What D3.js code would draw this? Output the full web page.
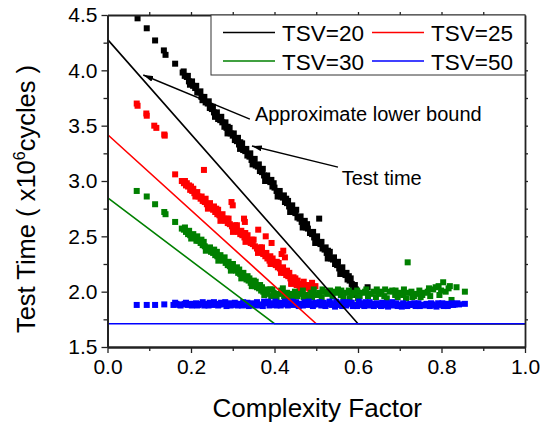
<!DOCTYPE html>
<html><head><meta charset="utf-8">
<script src="https://cdnjs.cloudflare.com/ajax/libs/d3/7.8.5/d3.min.js"></script>
<style>body{margin:0;background:#fff}svg{display:block}text{font-family:"Liberation Sans",Arial,sans-serif;fill:#000}</style>
</head><body><svg id="c" width="542" height="425"></svg>
<script>
const seriesNames = ["TSV=20","TSV=25","TSV=30","TSV=50"];
const seriesColors = ["#000000","#ff0000","#008000","#0000ff"];
const xTicks = [0,0.2,0.4,0.6,0.8,1.0];
const yTicks = [1.5,2.0,2.5,3.0,3.5,4.0,4.5];

const tsv20Points = [
[0.072,4.47],[0.094,4.38],[0.114,4.27],[0.135,4.18],[0.139,4.14],[0.162,4.06],
[0.180,3.98],[0.185,3.95],[0.190,3.94],[0.195,3.90],[0.200,3.89],[0.205,3.86],[0.210,3.84],[0.215,3.80],[0.220,3.80],[0.225,3.76],
[0.230,3.74],[0.235,3.71],[0.240,3.70],[0.245,3.66],[0.250,3.65],[0.255,3.62],[0.260,3.60],[0.265,3.56],[0.270,3.55],[0.275,3.53],
[0.280,3.49],[0.285,3.48],[0.290,3.45],[0.295,3.43],[0.300,3.41],[0.305,3.37],[0.310,3.36],[0.315,3.33],[0.320,3.31],[0.325,3.28],
[0.330,3.27],[0.335,3.23],[0.340,3.22],[0.345,3.19],[0.350,3.17],[0.355,3.14],[0.360,3.13],[0.365,3.09],[0.370,3.08],[0.375,3.05],
[0.380,3.03],[0.385,3.00],[0.390,2.99],[0.395,2.95],[0.400,2.94],[0.405,2.91],[0.410,2.89],[0.415,2.86],[0.420,2.85],[0.425,2.81],
[0.430,2.80],[0.435,2.77],[0.440,2.75],[0.445,2.72],[0.450,2.71],[0.455,2.67],[0.460,2.66],[0.465,2.63],[0.470,2.61],[0.475,2.58],
[0.480,2.57],[0.485,2.53],[0.490,2.52],[0.495,2.49],[0.500,2.47],[0.505,2.44],[0.510,2.43],[0.515,2.39],[0.520,2.38],[0.525,2.35],
[0.530,2.33],[0.535,2.30],[0.540,2.29],[0.545,2.25],[0.550,2.24],[0.555,2.21],[0.560,2.19],[0.565,2.16],[0.570,2.15],[0.575,2.11],
[0.580,2.10],[0.585,2.07],[0.590,2.05],[0.595,2.02],[0.600,1.99],[0.592,1.97],
[0.232,3.76],[0.262,3.62],[0.288,3.49],[0.318,3.35],[0.342,3.25],[0.372,3.11],[0.398,2.98],[0.428,2.84],[0.452,2.74],
[0.478,2.61],[0.502,2.50],[0.528,2.37],[0.552,2.27],[0.578,2.14],
[0.1825,3.99],[0.1925,3.95],[0.2025,3.90],[0.2125,3.86],[0.2225,3.81],[0.2425,3.72],[0.2525,3.67],[0.2725,3.58],[0.2825,3.53],
[0.2925,3.48],[0.3025,3.43],[0.3125,3.39],[0.3225,3.34],[0.3325,3.29],[0.3525,3.20],[0.3625,3.15],[0.3825,3.05],[0.3925,3.01],
[0.4125,2.91],[0.4225,2.87],[0.4325,2.82],[0.4425,2.78],[0.4625,2.68],[0.4725,2.64],[0.4925,2.54],[0.5125,2.45],[0.5225,2.40],
[0.5325,2.36],[0.5425,2.31],[0.5625,2.22],[0.5725,2.17],[0.5825,2.12],[0.5925,2.06],
[0.1975,3.87],[0.2275,3.73],[0.2575,3.58],[0.2875,3.43],[0.3175,3.29],[0.3475,3.15],[0.3775,3.00],[0.4075,2.86],[0.4375,2.72],
[0.4675,2.58],[0.4975,2.44],[0.5275,2.30],[0.5575,2.16],[0.5875,2.02],
[0.507,2.66],[0.623,2.04]
];

const tsv25Points = [
[0.070,3.70],[0.072,3.68],[0.093,3.61],[0.094,3.59],[0.112,3.50],[0.117,3.48],[0.136,3.42],[0.137,3.41],
[0.162,3.06],[0.231,3.10],
[0.178,3.00],[0.183,2.98],[0.188,2.96],[0.193,2.95],[0.198,2.92],[0.203,2.91],[0.208,2.89],[0.213,2.87],[0.218,2.86],[0.223,2.84],
[0.228,2.82],[0.233,2.81],[0.238,2.79],[0.243,2.77],[0.248,2.76],[0.253,2.74],[0.258,2.72],[0.263,2.70],[0.268,2.69],[0.273,2.67],
[0.278,2.66],[0.283,2.64],[0.288,2.62],[0.293,2.61],[0.298,2.59],[0.303,2.57],[0.308,2.56],[0.313,2.54],[0.318,2.52],[0.323,2.51],
[0.328,2.49],[0.333,2.48],[0.338,2.46],[0.343,2.44],[0.348,2.43],[0.353,2.41],[0.358,2.39],[0.363,2.37],[0.368,2.36],[0.373,2.34],
[0.378,2.32],[0.383,2.30],[0.388,2.28],[0.393,2.27],[0.398,2.25],[0.403,2.24],[0.408,2.22],[0.413,2.21],[0.418,2.19],[0.423,2.17],
[0.428,2.15],[0.433,2.14],[0.438,2.12],[0.443,2.10],[0.448,2.08],[0.453,2.06],[0.458,2.06],[0.463,2.07],[0.468,2.05],[0.473,2.04],
[0.478,2.06],[0.483,2.03],[0.488,2.05],[0.493,2.04],[0.498,2.05],
[0.190,2.98],[0.200,2.95],[0.215,2.90],[0.235,2.84],[0.255,2.77],[0.265,2.74],[0.290,2.66],[0.310,2.60],[0.330,2.53],[0.350,2.47],
[0.370,2.40],[0.390,2.32],[0.410,2.26],[0.430,2.19],[0.450,2.12],[0.470,2.09],[0.440,2.07],[0.460,2.03],[0.490,2.08],
[0.1855,3.00],[0.1955,2.96],[0.2055,2.93],[0.2255,2.86],[0.2455,2.80],[0.2605,2.75],[0.2755,2.70],[0.2855,2.66],[0.3055,2.60],
[0.3205,2.55],[0.3355,2.51],[0.3455,2.47],[0.3655,2.40],[0.3805,2.35],[0.3955,2.30],[0.4055,2.27],[0.4205,2.22],[0.4355,2.17],
[0.4455,2.13],[0.4555,2.10],
[0.2105,2.86],[0.2405,2.75],[0.2705,2.64],[0.3005,2.54],[0.3305,2.45],[0.3605,2.35],[0.3905,2.25],[0.4155,2.17],[0.4405,2.08],
[0.4655,2.02],[0.4855,2.01],
[0.297,2.81],[0.300,2.78],[0.327,2.66],[0.329,2.63],[0.361,2.56],[0.379,2.50],[0.393,2.44],[0.417,2.34],[0.421,2.37],[0.425,2.31]
];

const tsv30Points = [
[0.070,2.91],[0.094,2.86],[0.114,2.79],[0.136,2.72],[0.139,2.70],[0.162,2.63],
[0.178,2.57],[0.183,2.56],[0.188,2.54],[0.193,2.52],[0.198,2.51],[0.203,2.49],[0.208,2.49],[0.213,2.46],[0.218,2.46],[0.223,2.44],
[0.228,2.42],[0.233,2.41],[0.238,2.39],[0.243,2.38],[0.248,2.36],[0.253,2.35],[0.258,2.33],[0.263,2.32],[0.268,2.30],[0.273,2.29],
[0.278,2.28],[0.283,2.26],[0.288,2.24],[0.293,2.23],[0.298,2.22],[0.303,2.20],[0.308,2.19],[0.313,2.17],[0.318,2.16],[0.323,2.14],
[0.328,2.13],[0.333,2.11],[0.338,2.10],[0.343,2.08],[0.348,2.07],[0.353,2.05],[0.358,2.04],[0.363,2.03],[0.368,2.01],[0.373,2.00],
[0.378,1.99],[0.383,1.98],
[0.215,2.50],[0.225,2.47],[0.262,2.36],[0.290,2.27],[0.310,2.22],[0.340,2.12],[0.355,2.09],[0.370,2.04],[0.390,2.02],
[0.1855,2.58],[0.1955,2.55],[0.2055,2.52],[0.2305,2.45],[0.2455,2.40],[0.2555,2.38],[0.2705,2.33],[0.2805,2.31],[0.3005,2.25],
[0.3155,2.20],[0.3255,2.17],[0.3355,2.14],[0.3505,2.10],[0.3655,2.06],[0.3805,2.02],
[0.2005,2.48],[0.2355,2.37],[0.2655,2.28],[0.2955,2.19],[0.3205,2.12],[0.3455,2.05],[0.3755,1.97],
[0.392,1.96],[0.398,1.99],[0.405,1.95],[0.410,1.98],[0.416,2.01],[0.423,1.96],[0.430,1.99],[0.436,1.95],[0.442,1.98],[0.449,2.00],
[0.455,1.96],[0.462,1.98],[0.468,2.01],[0.475,1.97],[0.481,1.95],[0.488,1.99],[0.494,2.02],[0.500,1.97],[0.507,1.99],[0.513,1.95],
[0.520,2.00],[0.526,1.98],[0.533,2.01],[0.539,1.96],[0.546,1.99],[0.552,2.02],[0.559,1.97],[0.565,1.95],[0.572,1.99],[0.578,2.01],
[0.585,1.97],[0.591,1.99],[0.598,2.01],[0.604,1.96],[0.611,1.99],[0.617,2.00],[0.624,1.96],[0.630,1.98],[0.637,2.00],[0.643,1.95],
[0.650,1.98],[0.656,2.00],[0.663,1.96],[0.669,1.94],[0.676,2.00],[0.682,2.01],[0.689,1.97],[0.695,1.95],[0.702,1.99],[0.708,1.97],
[0.715,1.94],[0.721,1.99],[0.728,2.00],[0.734,1.96],[0.741,1.98],[0.747,2.01],[0.754,1.97],[0.760,1.99],[0.767,2.00],[0.773,1.96],
[0.780,2.02],[0.786,2.04],[0.793,2.05],[0.799,2.01],[0.804,2.085],[0.810,2.00],[0.817,2.03],[0.824,1.925],[0.836,2.04],[0.856,2.00],
[0.395,2.02],[0.420,2.03],[0.445,1.94],[0.470,1.95],[0.490,1.95],[0.515,2.02],[0.540,2.00],[0.560,2.01],[0.580,1.94],[0.600,1.94],
[0.620,2.02],[0.645,2.02],[0.665,2.02],[0.690,2.01],[0.710,2.02],[0.730,1.95],[0.750,1.95],[0.770,2.03],[0.795,1.97],[0.820,2.05],
[0.719,2.265]
];

const tsv50Points = [
[0.070,1.88],[0.094,1.88],[0.114,1.88],[0.136,1.885],
[0.158,1.88],[0.165,1.89],[0.172,1.88],[0.178,1.885],[0.185,1.89],[0.192,1.88],[0.198,1.89],[0.205,1.88],[0.212,1.895],[0.218,1.88],
[0.225,1.89],[0.232,1.875],[0.238,1.89],[0.245,1.90],[0.252,1.88],[0.258,1.89],[0.265,1.875],[0.272,1.90],[0.278,1.885],[0.285,1.87],
[0.292,1.895],[0.298,1.88],[0.305,1.90],[0.312,1.875],[0.318,1.89],[0.325,1.905],[0.332,1.88],[0.338,1.87],[0.345,1.895],[0.352,1.88],
[0.358,1.905],[0.365,1.885],[0.372,1.87],[0.378,1.895],[0.385,1.91],[0.392,1.88],[0.398,1.895],[0.405,1.875],[0.412,1.90],[0.418,1.885],
[0.425,1.91],[0.432,1.875],[0.438,1.895],[0.445,1.88],[0.452,1.905],[0.458,1.87],[0.465,1.89],[0.472,1.905],[0.478,1.88],[0.485,1.895],
[0.492,1.87],[0.498,1.90],[0.505,1.885],[0.512,1.875],[0.518,1.90],[0.525,1.885],[0.532,1.91],[0.538,1.88],[0.545,1.865],[0.552,1.895],
[0.558,1.88],[0.565,1.905],[0.572,1.875],[0.578,1.89],[0.585,1.90],[0.592,1.88],[0.598,1.87],[0.605,1.895],[0.612,1.88],[0.618,1.905],
[0.625,1.875],[0.632,1.89],[0.638,1.87],[0.645,1.895],[0.652,1.88],[0.658,1.90],[0.665,1.875],[0.672,1.865],[0.678,1.89],[0.685,1.875],
[0.692,1.895],[0.698,1.88],[0.705,1.865],[0.712,1.885],[0.718,1.87],[0.725,1.89],[0.732,1.88],[0.738,1.87],[0.745,1.895],[0.752,1.88],
[0.758,1.875],[0.765,1.89],[0.772,1.87],[0.778,1.885],[0.785,1.875],[0.792,1.895],[0.798,1.88],[0.805,1.87],[0.812,1.89],[0.818,1.88],
[0.825,1.895],[0.832,1.885],[0.838,1.895],[0.856,1.89],
[0.162,1.90],[0.175,1.875],[0.188,1.90],[0.202,1.875],[0.215,1.875],[0.228,1.905],[0.242,1.875],[0.255,1.905],[0.268,1.885],[0.282,1.905],
[0.295,1.875],[0.308,1.89],[0.322,1.875],[0.335,1.90],[0.348,1.875],[0.362,1.875],[0.375,1.91],[0.388,1.875],[0.402,1.91],[0.415,1.875],
[0.428,1.895],[0.442,1.91],[0.455,1.885],[0.468,1.875],[0.482,1.91],[0.495,1.885],[0.508,1.905],[0.522,1.87],[0.535,1.895],[0.548,1.91],
[0.562,1.87],[0.575,1.905],[0.588,1.87],[0.602,1.91],[0.615,1.87],[0.628,1.905],[0.642,1.885],[0.655,1.87],[0.668,1.895],[0.682,1.905],
[0.695,1.87],[0.708,1.895],[0.722,1.88],[0.735,1.895],[0.748,1.87],[0.762,1.885],[0.775,1.895],[0.788,1.865],[0.802,1.895],[0.815,1.87],
[0.828,1.88],[0.842,1.885]
];

const bound20 = [[0,4.28],[0.6,1.71],[1.0,1.71]];
const bound25 = [[0,3.42],[0.5,1.71],[1.0,1.71]];
const bound30 = [[0,2.85],[0.4,1.71],[1.0,1.71]];
const bound50 = [[0,1.71],[1.0,1.71]];

const annotations = [
  {text:"Approximate lower bound", tx:0.353, ty:3.54, from:[0.341,3.56], to:[0.0857,3.958]},
  {text:"Test time", tx:0.561, ty:2.964, from:[0.552,3.126], to:[0.346,3.316]}
];

const svg = d3.select("#c");
const L = 107.5, R = 525, T = 15, B = 347;
const x = d3.scaleLinear().domain([0,1]).range([L,R]);
const y = d3.scaleLinear().domain([1.5,4.5]).range([B,T]);

const defs = svg.append("defs");
defs.append("marker").attr("id","arr").attr("viewBox","0 0 10 6").attr("refX",10).attr("refY",3)
  .attr("markerWidth",10).attr("markerHeight",6).attr("markerUnits","userSpaceOnUse").attr("orient","auto")
  .append("path").attr("d","M0,0 L10,3 L0,6 Z").attr("fill","#000");

// points
const pointSets = [tsv20Points, tsv25Points, tsv30Points, tsv50Points];
const sz = 6;
pointSets.forEach((pts,i)=>{
  svg.append("g").selectAll("rect").data(pts).join("rect")
    .attr("x",d=>x(d[0])-sz/2).attr("y",d=>y(d[1])-sz/2)
    .attr("width",sz).attr("height",sz).attr("fill",seriesColors[i]);
});

// lines
const line = d3.line().x(d=>x(d[0])).y(d=>y(d[1]));
[bound20,bound25,bound30,bound50].forEach((b,i)=>{
  svg.append("path").attr("d",line(b)).attr("fill","none").attr("stroke",seriesColors[i]).attr("stroke-width",1.6);
});

// axes
const axCol = "#222";
const fs = 21;
const gx = svg.append("g").attr("transform",`translate(0,${B})`)
  .call(d3.axisBottom(x).tickValues(xTicks).tickFormat(d3.format(".1f")).tickSize(6).tickSizeOuter(0).tickPadding(6));
const gxm = svg.append("g").attr("transform",`translate(0,${B})`)
  .call(d3.axisBottom(x).tickValues([0.1,0.3,0.5,0.7,0.9]).tickFormat("").tickSize(4).tickSizeOuter(0));
const gy = svg.append("g").attr("transform",`translate(${L},0)`)
  .call(d3.axisLeft(y).tickValues(yTicks).tickFormat(d3.format(".1f")).tickSize(6).tickSizeOuter(0).tickPadding(4));
const gym = svg.append("g").attr("transform",`translate(${L},0)`)
  .call(d3.axisLeft(y).tickValues([1.75,2.25,2.75,3.25,3.75,4.25]).tickFormat("").tickSize(4).tickSizeOuter(0));
const gt = svg.append("g").attr("transform",`translate(0,${T})`)
  .call(d3.axisTop(x).tickValues([0.1,0.2,0.3,0.4,0.5,0.6,0.7,0.8,0.9]).tickFormat("").tickSize(3).tickSizeOuter(0));
const gr = svg.append("g").attr("transform",`translate(${R},0)`)
  .call(d3.axisRight(y).tickValues([1.75,2.0,2.25,2.5,2.75,3.0,3.25,3.5,3.75,4.0,4.25]).tickFormat("").tickSize(3).tickSizeOuter(0));
[gx,gxm,gy,gym,gt,gr].forEach(g=>{
  g.select(".domain").attr("stroke",axCol).attr("stroke-width",1.8);
  g.selectAll(".tick line").attr("stroke",axCol).attr("stroke-width",1.3);
  g.selectAll("text").attr("font-size",fs).attr("font-family",'"Liberation Sans",Arial,sans-serif').attr("fill","#000");
});

// legend
const lg = svg.append("g");
lg.append("rect").attr("x",211).attr("y",T).attr("width",R-211).attr("height",60)
  .attr("fill","#fff").attr("stroke","#333").attr("stroke-width",1);
const legPos = [[223,32.5],[372,32.5],[223,61],[372,61]];
seriesNames.forEach((n,i)=>{
  const [lx,ly] = legPos[i];
  lg.append("line").attr("x1",lx).attr("x2",lx+52).attr("y1",ly).attr("y2",ly)
    .attr("stroke",seriesColors[i]).attr("stroke-width",1.6);
  lg.append("text").attr("x",lx+59).attr("y",ly+8.5).attr("font-size",22.5).text(n);
});

// annotations
annotations.forEach(a=>{
  svg.append("line").attr("x1",x(a.from[0])).attr("y1",y(a.from[1])).attr("x2",x(a.to[0])).attr("y2",y(a.to[1]))
    .attr("stroke","#000").attr("stroke-width",1.4).attr("marker-end","url(#arr)");
  svg.append("text").attr("x",x(a.tx)).attr("y",y(a.ty)).attr("font-size",20).text(a.text);
});

// titles
svg.append("text").attr("x",(L+R)/2+1).attr("y",416.5).attr("text-anchor","middle").attr("font-size",26).text("Complexity Factor");
const yt = svg.append("text").attr("transform","translate(35,199) rotate(-90)").attr("text-anchor","middle").attr("font-size",25.5);
yt.append("tspan").text("Test Time ( x10");
yt.append("tspan").attr("dy",-10).attr("font-size",16).text("6");
yt.append("tspan").attr("dy",10).text("cycles )");
</script></body></html>
